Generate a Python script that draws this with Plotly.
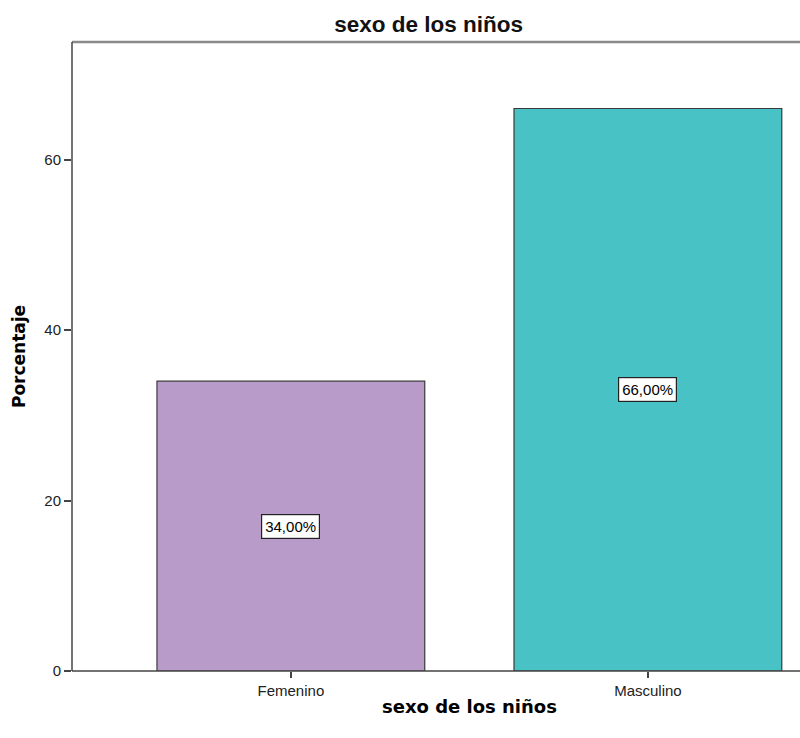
import plotly.graph_objects as go

categories = ["Femenino", "Masculino"]
values = [34.0, 66.0]
labels = ["34,00%", "66,00%"]
colors = ["#B89BC9", "#48C2C5"]
y_ticks = [0, 20, 40, 60]

X_RANGE = [-0.613, 1.426]

fig = go.Figure()
fig.add_trace(go.Bar(
    x=categories, y=values, width=0.75,
    marker=dict(color=colors, line=dict(color="#3a3a3a", width=1.2)),
    hoverinfo="skip", showlegend=False,
))

for c, v, t in zip(categories, values, labels):
    fig.add_annotation(
        x=c, y=v / 2, text=t, showarrow=False,
        font=dict(family="Liberation Sans, Arial", size=15, color="#000"),
        bgcolor="white", bordercolor="#222", borderwidth=1.2, borderpad=3,
    )

# x-axis title centred on the full (clipped) plot frame
fig.add_annotation(
    x=0.5 * (X_RANGE[0] + 1 + 0.613), xref="x", y=-(706 - 671) / (671 - 42), yref="paper",
    text="<b>sexo de los niños</b>", showarrow=False, xanchor="center", yanchor="middle",
    font=dict(family="DejaVu Sans", size=18, color="#000"),
)

fig.update_layout(
    width=800, height=738,
    margin=dict(l=72, r=0, t=42, b=67),
    paper_bgcolor="white", plot_bgcolor="white",
    title=dict(text="<b>sexo de los niños</b>", xref="paper", x=0.49, xanchor="center",
               y=1 - 24 / 738, yanchor="middle",
               font=dict(family="Liberation Sans, Arial", size=22.5, color="#111")),
    xaxis=dict(
        range=X_RANGE, showgrid=False, zeroline=False,
        showline=False, ticks="outside", ticklen=6, tickcolor="#444", tickwidth=1.5,
        tickfont=dict(family="Liberation Sans, Arial", size=15, color="#222"),
    ),
    yaxis=dict(
        range=[0, 73.8], tickvals=y_ticks, showgrid=False, zeroline=False,
        showline=False, ticks="outside", ticklen=7, tickcolor="#444", tickwidth=1.5,
        tickfont=dict(family="Liberation Sans, Arial", size=15, color="#222"),
        title=dict(text="<b>Porcentaje</b>", standoff=14,
                   font=dict(family="DejaVu Sans", size=17, color="#000")),
    ),
)

# frame lines: top (gray), left axis, bottom axis
fig.add_shape(type="line", xref="paper", yref="paper", x0=0, x1=1, y0=1, y1=1,
              line=dict(color="#8a8a8a", width=2.5))
fig.add_shape(type="line", xref="paper", yref="paper", x0=0, x1=0, y0=0, y1=1,
              line=dict(color="#444", width=1.5))
fig.add_shape(type="line", xref="paper", yref="paper", x0=0, x1=1, y0=0, y1=0,
              line=dict(color="#444", width=1.5))

fig.write_html("out.html")
